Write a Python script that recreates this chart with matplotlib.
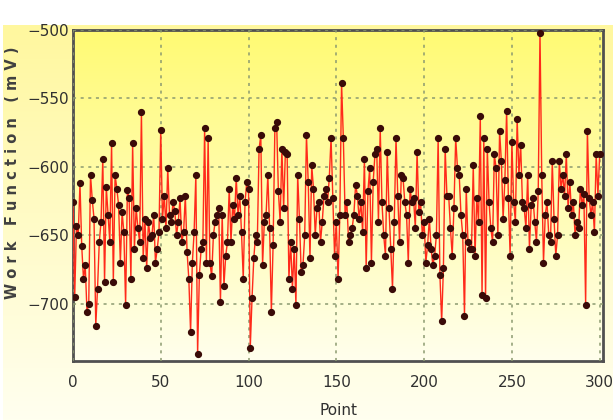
import numpy as np
import matplotlib.pyplot as plt

# work function readings (mV), one per point
wf = [
    -626, -695, -643, -650, -612, -658, -682, -672, -706, -700,
    -606, -624, -638, -716, -689, -655, -640, -594, -684, -615,
    -635, -655, -583, -684, -606, -616, -628, -670, -633, -648,
    -701, -617, -623, -682, -583, -660, -630, -645, -655, -560,
    -667, -638, -674, -640, -652, -650, -635, -670, -660, -648,
    -573, -638, -621, -645, -601, -635, -640, -626, -632, -650,
    -640, -623, -655, -648, -621, -662, -682, -721, -670, -648,
    -606, -737, -679, -660, -655, -572, -670, -579, -670, -680,
    -650, -640, -635, -630, -699, -635, -687, -665, -655, -616,
    -655, -628, -638, -608, -635, -621, -648, -682, -626, -611,
    -616, -732, -696, -667, -650, -655, -587, -577, -672, -640,
    -635, -606, -645, -706, -657, -572, -567, -618, -640, -587,
    -630, -589, -591, -682, -655, -689, -660, -701, -606, -638,
    -677, -672, -650, -577, -611, -667, -599, -616, -650, -630,
    -626, -655, -640, -621, -616, -626, -608, -579, -623, -665,
    -640, -682, -635, -539, -579, -635, -626, -655, -650, -645,
    -635, -613, -621, -638, -626, -648, -594, -674, -618, -601,
    -670, -611, -591, -587, -640, -572, -626, -650, -665, -589,
    -630, -660, -689, -640, -579, -621, -655, -606, -608, -626,
    -635, -670, -616, -626, -623, -645, -589, -633, -626, -650,
    -640, -670, -657, -638, -660, -672, -665, -650, -579, -679,
    -713, -674, -587, -621, -621, -645, -665, -630, -579, -601,
    -606, -635, -650, -709, -616, -655, -660, -660, -599, -665,
    -623, -640, -563, -694, -579, -696, -587, -626, -645, -655,
    -591, -601, -650, -574, -596, -638, -610, -559, -623, -665,
    -582, -626, -640, -565, -606, -584, -626, -630, -645, -606,
    -660, -628, -623, -640, -655, -618, -502, -606, -670, -635,
    -626, -650, -655, -596, -638, -665, -650, -596, -616, -606,
    -621, -591, -630, -611, -635, -626, -650, -640, -645, -616,
    -628, -620, -701, -574, -623, -635, -626, -648, -591, -621,
    -591,
]
points = np.arange(len(wf))

xticks = [0, 50, 100, 150, 200, 250, 300]
yticks = [-700, -650, -600, -550, -500]

fig = plt.figure(figsize=(6.13, 4.2), dpi=100, facecolor='white')

# pale yellow panel behind everything
bg = fig.add_axes([0.005, 0.0, 0.995, 0.94], zorder=-5)
grad = np.linspace(0, 1, 256)[:, None]
top = np.array([1.0, 0.97, 0.62])
bot = np.array([1.0, 1.0, 0.94])
img = top * (1 - grad[..., None]) + bot * grad[..., None]
img = np.repeat(img, 2, axis=1)
bg.imshow(img, aspect='auto', extent=[0, 1, 0, 1])
bg.axis('off')

ax = fig.add_axes([0.119, 0.14, 0.865, 0.789])
top2 = np.array([1.0, 0.98, 0.45])
bot2 = np.array([1.0, 1.0, 0.93])
img2 = top2 * (1 - grad[..., None]) + bot2 * grad[..., None]
img2 = np.repeat(img2, 2, axis=1)
ax.imshow(img2, aspect='auto', extent=[0, 302, -742, -500], zorder=0)

ax.plot(points, wf, color='#ff2a1a', lw=1.0, zorder=3)
ax.plot(points, wf, 'o', color='#3a0b08', ms=4.2, zorder=4)

ax.set_xlim(0, 302)
ax.set_ylim(-742, -500)
ax.set_xticks(xticks)
ax.set_yticks(yticks)
ax.grid(True, color='#8c9a70', ls=(0, (2, 3)), lw=1.1, zorder=1)
ax.set_axisbelow(False)
for s in ax.spines.values():
    s.set_color('#505050')
    s.set_linewidth(2)
ax.tick_params(length=0, labelsize=11, colors='#303030', pad=3)
ax.tick_params(axis='x', pad=10)

ax.set_xlabel('Point', fontsize=11, color='#303030')
ax.xaxis.set_label_coords(0.5, -0.125)
ax.set_ylabel('W o r k   F u n c t i o n   ( m V )', fontsize=10.5,
              color='#404040', fontweight='bold')
ax.yaxis.set_label_coords(-0.1, 0.57)

plt.savefig('out.png', dpi=100)
